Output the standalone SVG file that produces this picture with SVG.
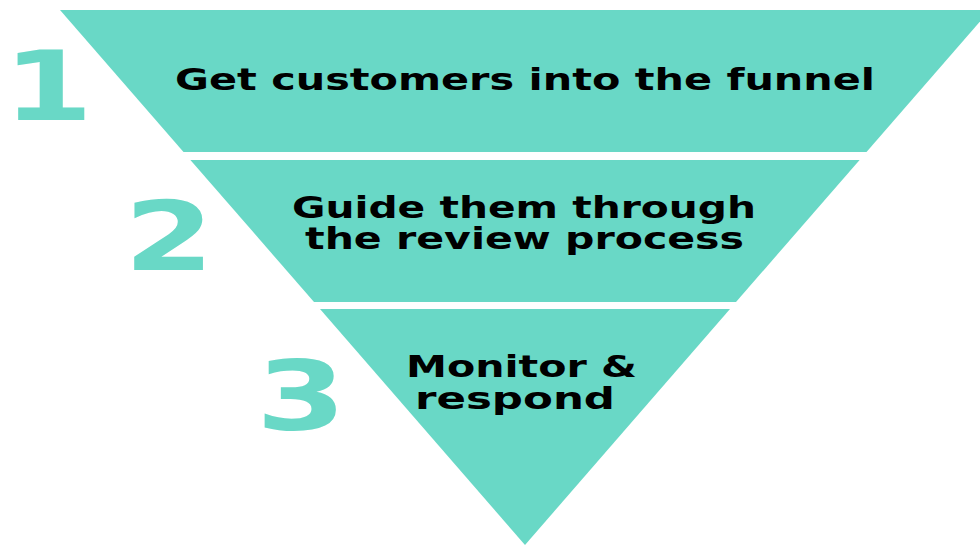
<svg xmlns="http://www.w3.org/2000/svg" width="980" height="545" viewBox="0 0 980 545">
<style>
.band{fill:#69D8C6}
.num{fill:#69D8C6;font-family:"DejaVu Sans","Liberation Sans",sans-serif;font-weight:bold;font-size:96px}
.lbl{fill:#000;font-family:"DejaVu Sans","Liberation Sans",sans-serif;font-weight:bold;font-size:31px}
</style>
<rect width="980" height="545" fill="#fff"/>
<g id="stage1">
<polygon class="band" points="60,10 990,10 866.5,152 183.5,152"/>
<text class="num" x="48" y="120" text-anchor="middle" transform="translate(48,120) scale(1.35,1) translate(-48,-120)">1</text>
<text class="lbl" x="175" y="90" textLength="700" lengthAdjust="spacingAndGlyphs">Get customers into the funnel</text>
</g>
<g id="stage2">
<polygon class="band" points="190.4,160 859.6,160 736,302 314,302"/>
<text class="num" x="169" y="270" text-anchor="middle" transform="translate(169,270) scale(1.35,1) translate(-169,-270)">2</text>
<text class="lbl" x="292" y="218" textLength="464" lengthAdjust="spacingAndGlyphs">Guide them through</text>
<text class="lbl" x="305" y="249" textLength="439" lengthAdjust="spacingAndGlyphs">the review process</text>
</g>
<g id="stage3">
<polygon class="band" points="320,309 730,309 525,545"/>
<text class="num" x="301" y="430" text-anchor="middle" transform="translate(301,430) scale(1.35,1) translate(-301,-430)">3</text>
<text class="lbl" x="406" y="377" textLength="231" lengthAdjust="spacingAndGlyphs">Monitor &amp;</text>
<text class="lbl" x="415" y="409" textLength="200" lengthAdjust="spacingAndGlyphs">respond</text>
</g>
<g id="connectors"/>
</svg>
